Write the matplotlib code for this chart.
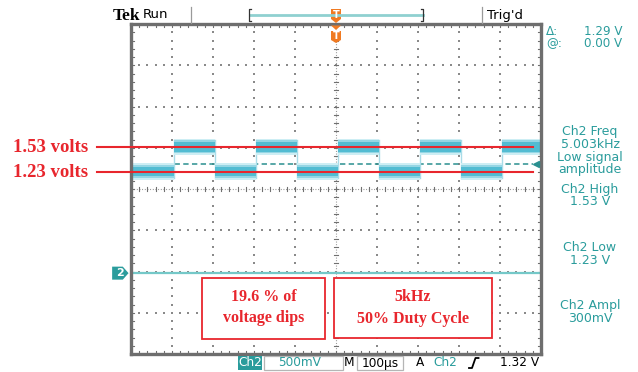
import numpy as np
import matplotlib
matplotlib.use("Agg")
import matplotlib.pyplot as plt
from matplotlib.patches import Rectangle, Polygon

# ---- Channel 2 acquisition settings ----
time_per_div_us = 100
volts_per_div = 0.5
ch2_position_div = -2.04          # ground reference, divisions from centre
trigger_level_v = 1.32

# ---- Square wave: edge instants and the two levels ----
edge_times_us = [-395, -295, -195, -95, 5, 105, 205, 305, 405]
level_low_v = 1.23
level_high_v = 1.53

# ---- Marked levels ----
marked_levels_v = [1.53, 1.23]
marked_labels = ["1.53 volts", "1.23 volts"]

# ---- Readouts ----
cursor_labels = ["Δ:", "@:"]
cursor_values = ["1.29 V", "0.00 V"]
measure_texts = ["Ch2 Freq", "5.003kHz", "Low signal", "amplitude",
                 "Ch2 High", "1.53 V", "Ch2 Low", "1.23 V",
                 "Ch2 Ampl", "300mV"]
measure_rows = [131.5, 144, 157.5, 170, 189, 201.5, 247.5, 260.5, 305, 318]
note_left = ["19.6 % of", "voltage dips"]
note_right = ["5kHz", "50% Duty Cycle"]

W, H = 638, 372
TEAL = "#2a9c9c"
RED = "#e8262d"
ORANGE = "#f07a22"
GRID = "#8a8a8a"

fig = plt.figure(figsize=(W / 100, H / 100), dpi=100)
fig.patch.set_facecolor("white")

# graticule area
gx0, gx1, gy0, gy1 = 131, 541, 24, 354
ax = fig.add_axes([gx0 / W, 1 - gy1 / H, (gx1 - gx0) / W, (gy1 - gy0) / H])
ax.set_xlim(-5 * time_per_div_us, 5 * time_per_div_us)
ax.set_ylim((-4 - ch2_position_div) * volts_per_div,
            (4 - ch2_position_div) * volts_per_div)
ax.set_xticks([])
ax.set_yticks([])
for s in ax.spines.values():
    s.set_linewidth(2.4)
    s.set_color("#6e6e6e")
    s.set_zorder(6)

ta = ax.transAxes
pw, ph = 1 / (gx1 - gx0), 1 / (gy1 - gy0)   # one pixel in axes units

# dotted division lines
for i in range(1, 10):
    if i == 5:
        continue
    ys = np.arange(1, 40) / 40
    ax.scatter(np.full_like(ys, i / 10), ys, s=0.9, color=GRID, marker="s",
               linewidths=0, transform=ta, zorder=1)
for k in range(1, 8):
    if k == 4:
        continue
    xs = np.arange(1, 50) / 50
    ax.scatter(xs, np.full_like(xs, k / 8), s=0.9, color=GRID, marker="s",
               linewidths=0, transform=ta, zorder=1)

# centre cross with minor ticks
ax.plot([0.5, 0.5], [0, 1], transform=ta, color=GRID, lw=0.8,
        dashes=(0.8, 1.6), zorder=1)
ax.plot([0, 1], [0.5, 0.5], transform=ta, color=GRID, lw=0.8,
        dashes=(0.8, 1.6), zorder=1)
for m in np.arange(1, 40) / 40:
    ax.plot([0.5 - 2 * pw, 0.5 + 2 * pw], [m, m], transform=ta,
            color="#707070", lw=0.8, zorder=1)
for m in np.arange(1, 50) / 50:
    ax.plot([m, m], [0.5 - 2 * ph, 0.5 + 2 * ph], transform=ta,
            color="#707070", lw=0.8, zorder=1)

# ticks along the border
for m in np.arange(1, 50) / 50:
    ax.plot([m, m], [0, 3 * ph], transform=ta, color="#707070", lw=0.8, zorder=1)
    ax.plot([m, m], [1, 1 - 3 * ph], transform=ta, color="#707070", lw=0.8, zorder=1)
for m in np.arange(1, 40) / 40:
    ax.plot([0, 3 * pw], [m, m], transform=ta, color="#707070", lw=0.8, zorder=1)
    ax.plot([1, 1 - 3 * pw], [m, m], transform=ta, color="#707070", lw=0.8, zorder=1)

# Ch2 ground reference line and marker
ax.axhline(0, color="#74c8c8", lw=1.6, zorder=2)
yx = ax.get_yaxis_transform()
gh = 6.5 * (ax.get_ylim()[1] - ax.get_ylim()[0]) / (gy1 - gy0)
ax.add_patch(Polygon([(-0.046, -gh), (-0.020, -gh), (-0.006, 0),
                      (-0.020, gh), (-0.046, gh)], closed=True,
                     transform=yx, clip_on=False, fc=TEAL, ec="none", zorder=7))
ax.text(-0.028, 0, "2", transform=yx, color="white", fontsize=8,
        fontweight="bold", ha="center", va="center", zorder=8, clip_on=False)

# trigger level
ax.plot([0, (533 - gx0) * pw], [trigger_level_v] * 2, transform=yx,
        color="#2a8f8f", lw=1.1, dashes=(3.5, 2.2), zorder=3)
ax.plot([(536 - gx0) * pw], [trigger_level_v], transform=yx, marker="<",
        ms=4.5, color="#2a8f8f", clip_on=False, zorder=7)

# square wave trace
bounds = [ax.get_xlim()[0]] + edge_times_us + [ax.get_xlim()[1]]
levels = [level_low_v if j % 2 == 0 else level_high_v for j in range(len(bounds) - 1)]
for j in range(len(levels)):
    t0, t1, lv = bounds[j], bounds[j + 1], levels[j]
    for half, col in ((0.10, "#cdeef4"), (0.078, "#95d6e4"), (0.058, "#52bcd2")):
        ax.fill_between([t0, t1], lv - half, lv + half, color=col,
                        lw=0, zorder=4)
for t in edge_times_us:
    ax.plot([t, t], [level_low_v - 0.08, level_high_v + 0.08],
            color="#a9dce8", lw=1.0, zorder=3)

# marked levels
for lv in marked_levels_v:
    ax.plot([(97 - gx0) * pw, (533 - gx0) * pw], [lv, lv], transform=yx,
            color=RED, lw=1.5, clip_on=False, zorder=9)

# ---- overlay for screen text and notes (pixel coordinates) ----
ov = fig.add_axes([0, 0, 1, 1], zorder=10)
ov.set_xlim(0, W)
ov.set_ylim(H, 0)
ov.axis("off")
ov.patch.set_alpha(0)

sans = "DejaVu Sans"
serif = "Liberation Serif"

for lbl, lv in zip(marked_labels, marked_levels_v):
    ypix = ax.transData.transform((0, lv))[1]
    ypix = H - ypix * 100 / fig.dpi
    ov.text(13, ypix + 0.5, lbl, family=serif, fontweight="bold", fontsize=13.5,
            color=RED, ha="left", va="center")

# status bar
ov.text(113, 15.5, "Tek", family=serif, fontweight="bold", fontsize=12.5,
        color="black", ha="left", va="center")
ov.text(143, 15, "Run", family=sans, fontsize=9.5, color="black",
        ha="left", va="center")
ov.plot([190.5, 190.5], [7, 23], color="#9a9a9a", lw=0.9)
ov.plot([482, 482], [7, 23], color="#9a9a9a", lw=0.9)
ov.text(487, 15, "Trig'd", family=sans, fontsize=9.5, color="black",
        ha="left", va="center")
ov.plot([250, 423], [15, 15], color="#8fd0d0", lw=2.0)
ov.plot([251, 249, 249, 251], [9, 9, 21, 21], color="#333333", lw=0.9)
ov.plot([421, 423, 423, 421], [9, 9, 21, 21], color="#333333", lw=0.9)

# trigger position markers
ov.add_patch(Polygon([(331, 9), (341, 9), (341, 19), (336, 23), (331, 19)],
                     closed=True, fc=ORANGE, ec="none"))
ov.text(336, 14.5, "T", color="white", fontsize=7, fontweight="bold",
        ha="center", va="center", family=sans)
ov.add_patch(Polygon([(331, 25.5), (341, 25.5), (336, 30)], closed=True,
                     fc=ORANGE, ec="none"))
ov.add_patch(Polygon([(331, 31), (341, 31), (341, 40), (336, 43), (331, 40)],
                     closed=True, fc=ORANGE, ec="none"))
ov.text(336, 36, "T", color="white", fontsize=7, fontweight="bold",
        ha="center", va="center", family=sans)

# cursor readouts
for lbl, val, yy in zip(cursor_labels, cursor_values, [31.5, 43.5]):
    ov.text(546, yy, lbl, family=sans, fontsize=8.6, color=TEAL,
            ha="left", va="center")
    ov.text(622, yy, val, family=sans, fontsize=8.6, color=TEAL,
            ha="right", va="center")

# measurements
for txt, yy in zip(measure_texts, measure_rows):
    ov.text(590, yy, txt, family=sans, fontsize=9, color=TEAL,
            ha="center", va="center")

# notes
ov.add_patch(Rectangle((202, 278), 123, 61, fc="white", ec=RED, lw=1.3))
ov.add_patch(Rectangle((334, 278), 158, 60, fc="white", ec=RED, lw=1.3))
for txt, yy in zip(note_left, [297, 318]):
    ov.text(263.5, yy, txt, family=serif, fontweight="bold", fontsize=11.5,
            color=RED, ha="center", va="center")
for txt, yy in zip(note_right, [297, 319]):
    ov.text(413, yy, txt, family=serif, fontweight="bold", fontsize=11.5,
            color=RED, ha="center", va="center")

# bottom settings bar
by = 363
ov.add_patch(Rectangle((238, 356), 24, 14, fc=TEAL, ec="none"))
ov.text(250, by, "Ch2", family=sans, fontsize=8.7, color="white",
        ha="center", va="center")
ov.add_patch(Rectangle((264, 356), 79, 14, fc="white", ec="#b5b5b5", lw=0.9))
ov.text(300, by, f"{int(volts_per_div * 1000)}mV", family=sans, fontsize=8.7,
        color=TEAL, ha="center", va="center")
ov.text(349, by, "M", family=sans, fontsize=8.7, color="black",
        ha="center", va="center")
ov.add_patch(Rectangle((357, 356), 46, 14, fc="white", ec="#b5b5b5", lw=0.9))
ov.text(380, by, f"{time_per_div_us}µs", family=sans, fontsize=8.7,
        color="black", ha="center", va="center")
ov.text(420, by, "A", family=sans, fontsize=8.7, color="black",
        ha="center", va="center")
ov.text(445, by, "Ch2", family=sans, fontsize=8.7, color=TEAL,
        ha="center", va="center")
ov.plot([469, 472, 475.5, 478.5], [368, 368, 358, 358], color="black", lw=1.3)
ov.text(539, by, f"{trigger_level_v:.2f} V", family=sans, fontsize=8.7,
        color="black", ha="right", va="center")

fig.savefig("out.png", dpi=100, facecolor="white")
